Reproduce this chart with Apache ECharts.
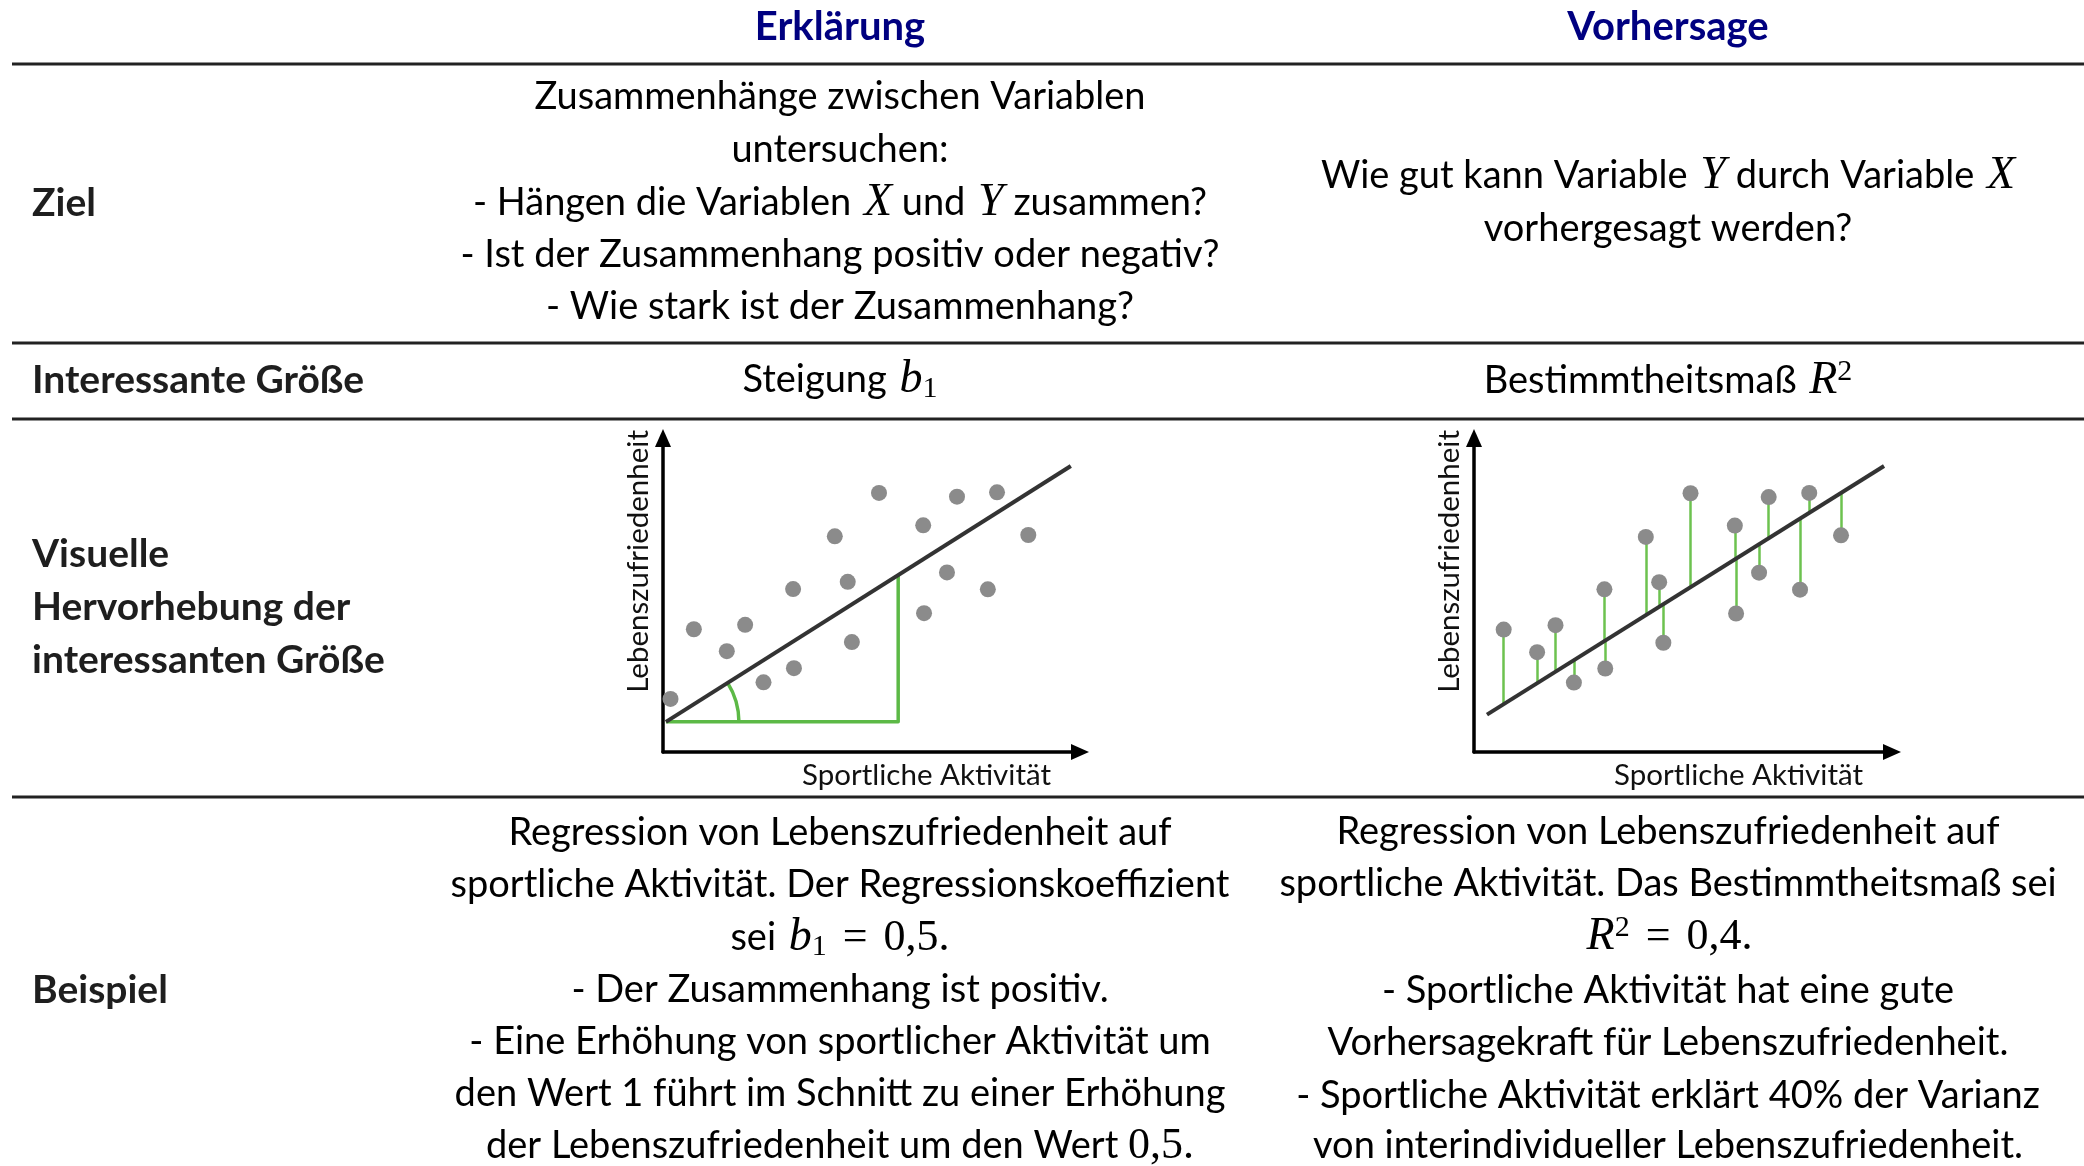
<!DOCTYPE html>
<html>
<head>
<meta charset="utf-8">
<title>Erklärung vs. Vorhersage</title>
<script src="https://cdn.jsdelivr.net/npm/echarts@6/dist/echarts.min.js"></script>
<style>
  html, body { margin: 0; padding: 0; background: #fff; }
  #chart { width: 2084px; height: 1166px; }
</style>
</head>
<body>
<div id="chart"></div>
<script>
// Streudiagramm "Erklärung" (Steigung)
const leftX = [0.18, 0.74, 1.53, 1.97, 2.41, 3.12, 3.14, 4.12, 4.43, 4.53, 5.18, 6.24, 6.26, 6.81, 7.05, 7.79, 8.01, 8.76];
const leftY = [1.69, 3.91, 3.21, 4.05, 2.22, 5.19, 2.67, 6.87, 5.42, 3.50, 8.25, 7.22, 4.42, 5.72, 8.13, 5.18, 8.27, 6.91];
const leftLineX = [0.07, 9.78];
const leftLineY = [0.96, 9.11];
const slopeRunX = 5.64; // Ende des grünen Steigungsdreiecks

// Streudiagramm "Vorhersage" (Residuen)
const rightX = [0.71, 1.51, 1.95, 2.39, 3.12, 3.14, 4.11, 4.43, 4.53, 5.18, 6.24, 6.27, 6.82, 7.05, 7.80, 8.02, 8.78];
const rightY = [3.90, 3.18, 4.04, 2.21, 5.18, 2.66, 6.85, 5.41, 3.48, 8.24, 7.21, 4.41, 5.71, 8.12, 5.17, 8.25, 6.90];
const rightLineX = [0.31, 9.81];
const rightLineY = [1.19, 9.11];

const xName = 'Sportliche Aktivität';
const yName = 'Lebenszufriedenheit';

// Tabellentexte
const headers = ['Erklärung', 'Vorhersage'];
const rowLabels = ['Ziel', 'Interessante Größe', 'Visuelle', 'Hervorhebung der', 'interessanten Größe', 'Beispiel'];
const zielErkl = [
  '{n|Zusammenhänge zwischen Variablen}',
  '{n|untersuchen:}',
  '{n|- Hängen die Variablen }{m|X}{n| und }{m|Y}{n| zusammen?}',
  '{n|- Ist der Zusammenhang positiv oder negativ?}',
  '{n|- Wie stark ist der Zusammenhang?}'
];
const zielVorh = [
  '{n|Wie gut kann Variable }{m|Y}{n| durch Variable }{m|X}',
  '{n|vorhergesagt werden?}'
];
const groesse = ['{n|Steigung }{m|b}{sub|1}', '{n|Bestimmtheitsmaß }{m|R}{sup|2}'];
const beispielErkl = [
  '{n|Regression von Lebenszufriedenheit auf}',
  '{n|sportliche Aktivität. Der Regressionskoeffizient}',
  '{n|sei }{m|b}{sub|1}{eq|=}{r|0,5.}',
  '{n|- Der Zusammenhang ist positiv.}',
  '{n|- Eine Erhöhung von sportlicher Aktivität um}',
  '{n|den Wert 1 führt im Schnitt zu einer Erhöhung}',
  '{n|der Lebenszufriedenheit um den Wert }{r|0,5.}'
];
const beispielVorh = [
  '{n|Regression von Lebenszufriedenheit auf}',
  '{n|sportliche Aktivität. Das Bestimmtheitsmaß sei}',
  '{m|R}{sup|2}{eq|=}{r|0,4.}',
  '{n|- Sportliche Aktivität hat eine gute}',
  '{n|Vorhersagekraft für Lebenszufriedenheit.}',
  '{n|- Sportliche Aktivität erklärt 40% der Varianz}',
  '{n|von interindividueller Lebenszufriedenheit.}'
];

const chart = echarts.init(document.getElementById('chart'));

const FONT = 'Lato, "Noto Sans", sans-serif';
const MATH = '"Liberation Serif", "DejaVu Serif", serif';
const TXT = '#1e1e1e';
const GREEN = '#5cb946';

const rich = {
  n: { fontFamily: FONT, fontSize: 38, color: TXT, lineHeight: 48 },
  m: { fontFamily: MATH, fontStyle: 'italic', fontSize: 46, color: TXT, lineHeight: 48, padding: [0, 0, 0, 3] },
  r: { fontFamily: MATH, fontSize: 44, color: TXT, lineHeight: 48 },
  eq: { fontFamily: MATH, fontSize: 44, color: TXT, lineHeight: 48, padding: [0, 16, 0, 16] },
  sub: { fontFamily: MATH, fontSize: 30, color: TXT, lineHeight: 26, verticalAlign: 'bottom' },
  sup: { fontFamily: MATH, fontSize: 30, color: TXT, lineHeight: 29, verticalAlign: 'top' }
};

function richText(x, y, text) {
  return {
    type: 'text', x: x, y: y,
    style: { text: text, rich: rich, align: 'center', verticalAlign: 'middle' }
  };
}
function label(x, y, text, color, align, size) {
  return {
    type: 'text', x: x, y: y,
    style: {
      text: text, fontFamily: FONT, fontWeight: 'bold', fontSize: size,
      fill: color, align: align, verticalAlign: 'middle'
    }
  };
}
function rule(y) {
  return {
    type: 'line', shape: { x1: 12, y1: y, x2: 2084, y2: y },
    style: { stroke: '#222', lineWidth: 3 }
  };
}

const elements = [rule(64), rule(343), rule(419), rule(797)];
elements.push(label(840, 27, headers[0], '#000080', 'center', 40));
elements.push(label(1668, 27, headers[1], '#000080', 'center', 40));
[203, 380, 554, 607, 660, 990].forEach((y, i) => elements.push(label(32, y, rowLabels[i], TXT, 'left', 39)));
[97, 150, 203, 255, 307].forEach((y, i) => elements.push(richText(840, y, zielErkl[i])));
[176, 229].forEach((y, i) => elements.push(richText(1668, y, zielVorh[i])));
elements.push(richText(840, 380, groesse[0]));
elements.push(richText(1668, 381, groesse[1]));
[833, 885, 938, 990, 1042, 1094, 1146].forEach((y, i) => elements.push(richText(840, y, beispielErkl[i])));
[832, 884, 937, 991, 1043, 1096, 1146].forEach((y, i) => elements.push(richText(1668, y, beispielVorh[i])));

function makeX(idx) {
  return {
    gridIndex: idx, type: 'value', min: 0, max: 10,
    name: xName, nameLocation: 'end', nameGap: -29,
    nameTextStyle: { fontFamily: FONT, fontSize: 29.5, color: '#111', align: 'right', verticalAlign: 'top', padding: [8, 0, 0, 0] },
    axisLine: { lineStyle: { color: '#000', width: 3.5 }, symbol: ['none', 'triangle'], symbolSize: [16, 18] },
    axisTick: { show: false }, axisLabel: { show: false }, splitLine: { show: false }
  };
}
function makeY(idx) {
  return {
    gridIndex: idx, type: 'value', min: 0, max: 10,
    name: yName, nameLocation: 'end', nameGap: 8, nameRotate: 90,
    nameTextStyle: { fontFamily: FONT, fontSize: 29.5, color: '#111', align: 'right', verticalAlign: 'bottom', padding: [0, 0, 10, 0] },
    axisLine: { lineStyle: { color: '#000', width: 3.5 }, symbol: ['none', 'triangle'], symbolSize: [16, 18] },
    axisTick: { show: false }, axisLabel: { show: false }, splitLine: { show: false }
  };
}

function lineAt(lx, ly, x) {
  return ly[0] + (ly[1] - ly[0]) * (x - lx[0]) / (lx[1] - lx[0]);
}

const leftPts = leftX.map((x, i) => [x, leftY[i]]);
const rightPts = rightX.map((x, i) => [x, rightY[i]]);
const residuals = rightPts.map(p => ({ coords: [p, [p[0], lineAt(rightLineX, rightLineY, p[0])]] }));

const option = {
  animation: false,
  backgroundColor: '#fff',
  grid: [
    { left: 663, top: 438, width: 417, height: 314, outerBoundsMode: 'none', containLabel: false },
    { left: 1474, top: 438, width: 418, height: 314, outerBoundsMode: 'none', containLabel: false }
  ],
  xAxis: [makeX(0), makeX(1)],
  yAxis: [makeY(0), makeY(1)],
  series: [
    {
      // grünes Steigungsdreieck
      type: 'line', xAxisIndex: 0, yAxisIndex: 0, symbol: 'none', z: 2,
      lineStyle: { color: GREEN, width: 3.5, join: 'round' },
      data: [[leftLineX[0], leftLineY[0]], [slopeRunX, leftLineY[0]], [slopeRunX, lineAt(leftLineX, leftLineY, slopeRunX)]]
    },
    {
      // Winkelbogen
      type: 'custom', xAxisIndex: 0, yAxisIndex: 0, z: 2,
      data: [[leftLineX[0], leftLineY[0]]],
      renderItem: function (params, api) {
        const p0 = api.coord([leftLineX[0], leftLineY[0]]);
        const p1 = api.coord([leftLineX[1], leftLineY[1]]);
        const a = Math.atan2(p0[1] - p1[1], p1[0] - p0[0]);
        return {
          type: 'arc',
          shape: { cx: p0[0], cy: p0[1], r: 73, startAngle: -a, endAngle: 0, clockwise: true },
          style: { stroke: GREEN, fill: null, lineWidth: 3.5 }
        };
      }
    },
    {
      type: 'line', xAxisIndex: 0, yAxisIndex: 0, symbol: 'none', z: 3,
      lineStyle: { color: '#333', width: 4 },
      data: [[leftLineX[0], leftLineY[0]], [leftLineX[1], leftLineY[1]]]
    },
    {
      type: 'scatter', xAxisIndex: 0, yAxisIndex: 0, z: 4,
      symbolSize: 16, itemStyle: { color: '#8b8b8b', opacity: 1 },
      data: leftPts
    },
    {
      // Residuen
      type: 'lines', coordinateSystem: 'cartesian2d', xAxisIndex: 1, yAxisIndex: 1, z: 2,
      lineStyle: { color: '#6cc24f', width: 2.5, opacity: 1 },
      data: residuals
    },
    {
      type: 'line', xAxisIndex: 1, yAxisIndex: 1, symbol: 'none', z: 3,
      lineStyle: { color: '#333', width: 4 },
      data: [[rightLineX[0], rightLineY[0]], [rightLineX[1], rightLineY[1]]]
    },
    {
      type: 'scatter', xAxisIndex: 1, yAxisIndex: 1, z: 4,
      symbolSize: 16, itemStyle: { color: '#8b8b8b', opacity: 1 },
      data: rightPts
    }
  ],
  graphic: { elements: elements }
};

chart.setOption(option);
</script>
</body>
</html>
